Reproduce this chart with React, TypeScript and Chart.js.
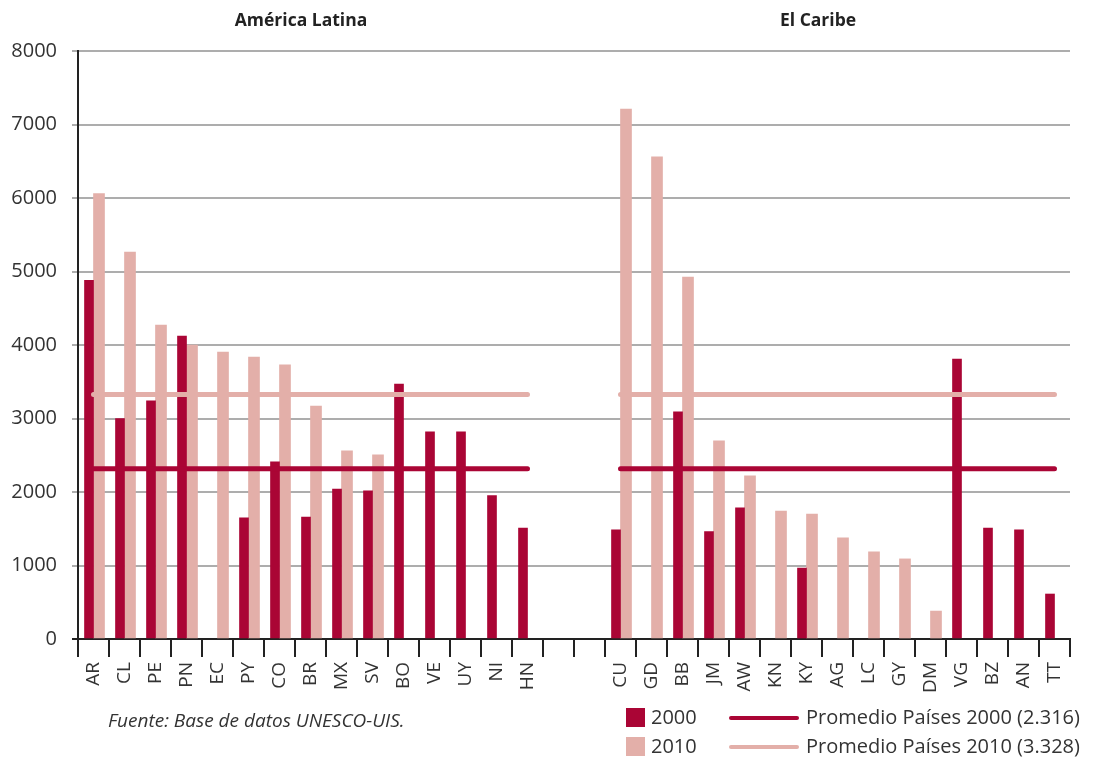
import React, { useEffect, useRef } from "react";
import { Chart, registerables } from "chart.js";

Chart.register(...registerables);

const categories = ["AR","CL","PE","PN","EC","PY","CO","BR","MX","SV","BO","VE","UY","NI","HN"," ","  ","CU","GD","BB","JM","AW","KN","KY","AG","LC","GY","DM","VG","BZ","AN","TT"];

const values2000 = [4880,3000,3240,4120,null,1650,2410,1660,2040,2015,3470,2820,2820,1950,1510,null,null,1485,null,3090,1460,1785,null,965,null,null,null,null,3810,1510,1485,612];

const values2010 = [6060,5265,4270,4000,3905,3835,3730,3170,2560,2505,null,null,null,null,null,null,null,7210,6560,4925,2695,2220,1740,1700,1375,1185,1090,380,null,null,null,null];

const avg2000 = 2316;
const avg2010 = 3328;
const groupLatam = categories.map((_, i) => i <= 14);
const groupCarib = categories.map((_, i) => i >= 17);

const yTicks = [0,1000,2000,3000,4000,5000,6000,7000,8000];

const C2000 = "#AA0535";
const C2010 = "#E3AFA9";
const FONT = "'Open Sans', sans-serif";

function avgLine(avg: number) {
  return categories.map((_, i) => (groupLatam[i] || groupCarib[i] ? avg : null));
}

export default function App() {
  const ref = useRef<HTMLCanvasElement>(null);
  useEffect(() => {
    if (!ref.current) return;
    const chart = new Chart(ref.current, {
      type: "bar",
      data: {
        labels: categories,
        datasets: [
          { type: "bar", label: "2000", data: values2000, backgroundColor: C2000, barThickness: 9, order: 2 } as any,
          { type: "bar", label: "2010", data: values2010, backgroundColor: C2010, barThickness: 11, order: 2 } as any,
          { type: "line", label: "Promedio Países 2010 (3.328)", data: avgLine(avg2010), borderColor: C2010, borderWidth: 5, pointRadius: 0, borderCapStyle: "round", spanGaps: false, order: 1 } as any,
          { type: "line", label: "Promedio Países 2000 (2.316)", data: avgLine(avg2000), borderColor: C2000, borderWidth: 5, pointRadius: 0, borderCapStyle: "round", spanGaps: false, order: 0 } as any,
        ],
      },
      options: {
        responsive: false,
        animation: false,
        layout: { padding: { top: 51, right: 40, left: 0, bottom: 0 } },
        plugins: { legend: { display: false }, tooltip: { enabled: false }, title: { display: false } },
        scales: {
          x: {
            grid: { offset: true, drawOnChartArea: false, drawTicks: true, tickLength: 18, color: "#222", lineWidth: 2 },
            border: { color: "#222", width: 2 },
            ticks: { autoSkip: false, minRotation: 90, maxRotation: 90, padding: 5, color: "#333", font: { family: FONT, size: 19 } },
            afterFit: (s: any) => { s.height = 120; },
          },
          y: {
            min: 0,
            max: 8000,
            afterBuildTicks: (s: any) => { s.ticks = yTicks.map((v) => ({ value: v })); },
            grid: {
              color: (ctx: any) => (ctx.tick && ctx.tick.value === 0 ? "#222" : "#adadad"),
              lineWidth: 2,
              tickLength: 6,
              drawTicks: true,
            },
            border: { color: "#222", width: 2 },
            ticks: { padding: 15, color: "#333", font: { family: FONT, size: 20 }, callback: (v: any) => String(v) },
            afterFit: (s: any) => { s.width = 78; },
          },
        },
      },
    });
    return () => chart.destroy();
  }, []);

  const legendText: React.CSSProperties = { position: "absolute", fontFamily: FONT, fontSize: 20, color: "#333", lineHeight: "20px", whiteSpace: "nowrap" };
  const title: React.CSSProperties = { position: "absolute", top: 7, transform: "translateX(-50%)", fontFamily: FONT, fontWeight: 700, fontSize: 17.5, color: "#222", whiteSpace: "nowrap" };

  return (
    <div style={{ position: "absolute", left: 0, top: 0, width: 1110, height: 759, background: "#fff" }}>
      <canvas ref={ref} width={1110} height={759} style={{ position: "absolute", left: 0, top: 0 }} />
      <div style={{ ...title, left: 301 }}>América Latina</div>
      <div style={{ ...title, left: 818 }}>El Caribe</div>
      <div style={{ position: "absolute", left: 108, top: 707, fontFamily: FONT, fontStyle: "italic", fontSize: 19, color: "#333", whiteSpace: "nowrap" }}>Fuente: Base de datos UNESCO-UIS.</div>
      <div style={{ position: "absolute", left: 626, top: 708, width: 19, height: 19, background: C2000 }} />
      <div style={{ ...legendText, left: 651, top: 707 }}>2000</div>
      <div style={{ position: "absolute", left: 626, top: 737, width: 19, height: 19, background: C2010 }} />
      <div style={{ ...legendText, left: 651, top: 736 }}>2010</div>
      <div style={{ position: "absolute", left: 729, top: 716, width: 70, height: 4, borderRadius: 2, background: C2000 }} />
      <div style={{ ...legendText, left: 806, top: 707 }}>Promedio Países 2000 (2.316)</div>
      <div style={{ position: "absolute", left: 729, top: 745, width: 70, height: 4, borderRadius: 2, background: C2010 }} />
      <div style={{ ...legendText, left: 806, top: 736 }}>Promedio Países 2010 (3.328)</div>
    </div>
  );
}
